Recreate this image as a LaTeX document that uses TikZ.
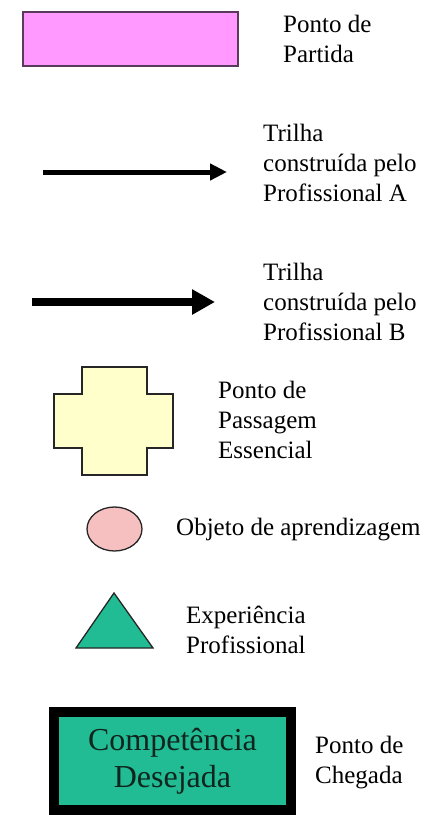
\documentclass[tikz,border=0pt]{standalone}
\usepackage{fontspec}
\setmainfont{Liberation Serif}
\usetikzlibrary{arrows.meta}
\definecolor{pinkfill}{HTML}{FF99FF}
\definecolor{pinkedge}{HTML}{5A3A5A}
\definecolor{crossfill}{HTML}{FFFFCC}
\definecolor{ovalfill}{HTML}{F6C0C0}
\definecolor{teal}{HTML}{22BC94}
\definecolor{boxtext}{HTML}{10251E}
\tikzset{
  lbl/.style={anchor=base west, inner sep=0pt, font=\fontsize{25}{30}\selectfont},
  shapeedge/.style={draw=black!85, line width=1.3pt},
}
\begin{document}
\begin{tikzpicture}[x=1pt,y=-1pt]
\useasboundingbox (0,0) rectangle (426,815);
% Ponto de Partida
\draw[draw=pinkedge, line width=1.4pt, fill=pinkfill] (23,12) rectangle (238,66);
\node[lbl] (tpartida) at (283,32) {\vtop{\hbox{Ponto de}\hbox{Partida}}};
% Arrow A
\coordinate (a1) at (43,172);
\coordinate (a2) at (227,172);
\draw[line width=5pt, -{Triangle[length=17pt,width=16pt]}] (a1) -- (a2);
\node[lbl] (ttrilhaA) at (263,141) {\vtop{\hbox{Trilha}\hbox{construída pelo}\hbox{Profissional A}}};
% Arrow B
\coordinate (b1) at (32,302);
\coordinate (b2) at (215,302);
\draw[line width=8pt, -{Triangle[length=23pt,width=24pt]}] (b1) -- (b2);
\node[lbl] (ttrilhaB) at (263,280) {\vtop{\hbox{Trilha}\hbox{construída pelo}\hbox{Profissional B}}};
% Cross
\draw[shapeedge, fill=crossfill] (82,367) -- (147,367) -- (147,394) -- (173,394) -- (173,448) -- (147,448) -- (147,475) -- (82,475) -- (82,448) -- (54,448) -- (54,394) -- (82,394) -- cycle;
\node[lbl] (tpassagem) at (218,398) {\vtop{\hbox{Ponto de}\hbox{Passagem}\hbox{Essencial}}};
% Ellipse
\draw[shapeedge, fill=ovalfill] (114.5,529) ellipse [x radius=27.5, y radius=22];
\node[lbl] (tobjeto) at (176,535) {Objeto de aprendizagem};
% Triangle
\draw[shapeedge, fill=teal] (114,593) -- (153,648) -- (76,648) -- cycle;
\node[lbl] (texp) at (186,623) {\vtop{\hbox{Experiência}\hbox{Profissional}}};
% Competencia box
\draw[line width=10pt, fill=teal] (54,712) rectangle (291,810);
\node[anchor=base, inner sep=0pt, font=\fontsize{32}{37}\selectfont, text=boxtext, align=center] (tcomp) at (172.5,750) {\vtop{\hbox to 0pt{\hss Competência\hss}\hbox to 0pt{\hss Desejada\hss}}};
\node[lbl] (tchegada) at (315,753) {\vtop{\hbox{Ponto de}\hbox{Chegada}}};
\end{tikzpicture}
\end{document}
